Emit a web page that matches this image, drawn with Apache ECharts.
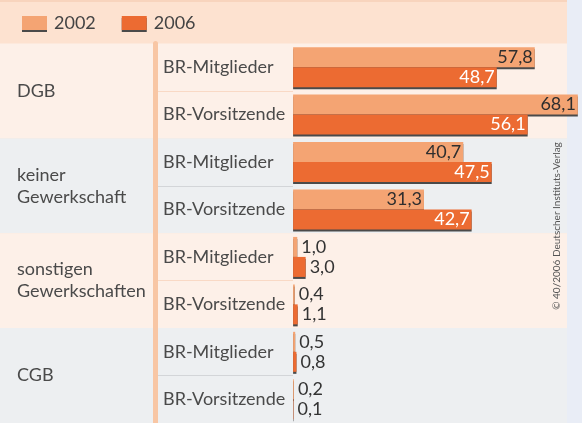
<!DOCTYPE html>
<html>
<head>
<meta charset="utf-8">
<script src="https://cdn.jsdelivr.net/npm/echarts@6/dist/echarts.min.js"></script>
<style>
  html, body { margin: 0; padding: 0; }
  #chart { width: 582px; height: 423px; }
</style>
</head>
<body>
<div id="chart"></div>
<script>
const groups = ['DGB', 'keiner\nGewerkschaft', 'sonstigen\nGewerkschaften', 'CGB'];
const subRows = ['BR-Mitglieder', 'BR-Vorsitzende'];
const years = ['2002', '2006'];
const values2002 = [57.8, 68.1, 40.7, 31.3, 1.0, 0.4, 0.5, 0.2];
const values2006 = [48.7, 56.1, 47.5, 42.7, 3.0, 1.1, 0.8, 0.1];
const sourceNote = '© 40/2006 Deutscher Instituts-Verlag';

// one category per group / sub-row pair, shown as the sub-row name
const rows = [];
groups.forEach(g => subRows.forEach(s => rows.push(g + '|' + s)));

const font = 'Lato, "Liberation Sans", sans-serif';
const fmt = v => v.toFixed(1).replace('.', ',');

function barData(values, innerColor) {
	return values.map(v => ({
		value: v,
		label: v > 10
			? {position: 'insideRight', distance: 2, color: innerColor}
			: {position: 'right', distance: 4, color: '#333'}
	}));
}

let chart = echarts.init(document.getElementById('chart'));

let option = {
	animation: false,
	backgroundColor: '#fde2d0',
	textStyle: {fontFamily: font},
	legend: {
		left: 17,
		top: 9,
		icon: 'rect',
		itemWidth: 25,
		itemHeight: 14,
		itemGap: 26,
		data: years,
		itemStyle: {shadowColor: '#4a4a4a', shadowOffsetY: 2, shadowBlur: 0},
		textStyle: {fontSize: 18, color: '#444', fontFamily: font, padding: [0, 0, 0, 2]}
	},
	grid: [
		{left: 0, right: 0, top: 43.4, bottom: -6},
		{left: 155, width: 138, top: 43.4, bottom: -6}
	],
	xAxis: [
		{gridIndex: 0, type: 'value', min: -70.1, max: 69.1, show: false},
		{gridIndex: 1, type: 'value', show: false}
	],
	yAxis: [
		{
			gridIndex: 0,
			type: 'category',
			position: 'left',
			inverse: true,
			data: rows,
			axisLine: {show: false},
			axisTick: {show: false},
			splitLine: {show: false},
			axisLabel: {
				inside: true,
				margin: 163,
				interval: 0,
				fontSize: 18,
				color: '#4a4a4a',
				fontFamily: font,
				formatter: v => v.split('|')[1]
			}
		},
		{
			gridIndex: 0,
			type: 'category',
			position: 'left',
			inverse: true,
			data: groups,
			axisLine: {show: false},
			axisTick: {show: false},
			splitLine: {show: false},
			axisLabel: {
				inside: true,
				margin: 17,
				interval: 0,
				fontSize: 18,
				lineHeight: 22,
				color: '#4a4a4a',
				fontFamily: font
			},
			splitArea: {show: true, interval: 0, areaStyle: {color: ['#fdf0e8', '#edeff1']}}
		},
		{
			gridIndex: 1,
			type: 'category',
			inverse: true,
			data: rows,
			axisLine: {show: true, lineStyle: {color: '#f8c6a4', width: 5}},
			axisTick: {show: false},
			axisLabel: {show: false},
			splitLine: {
				show: true,
				interval: i => i % 2 === 1,
				lineStyle: {color: ['#f9d9c5', '#d3d5d8'], width: 1}
			}
		}
	],
	graphic: [
		{type: 'rect', left: 567, top: 0, z: 1, shape: {width: 15, height: 423}, style: {fill: '#e9edf6'}},
		{type: 'rect', left: 0, top: 0, z: 1, shape: {width: 567, height: 2}, style: {fill: '#f8d4bd'}},
		{
			type: 'text',
			x: 557,
			y: 226,
			z: 1,
			rotation: Math.PI / 2,
			style: {text: sourceNote, fontSize: 10, fontFamily: font, fill: '#555', align: 'center', verticalAlign: 'middle'}
		}
	],
	series: [
		{
			name: years[0],
			type: 'bar',
			xAxisIndex: 0,
			yAxisIndex: 0,
			barWidth: 20,
			barGap: '0%',
			clip: false,
			data: barData(values2002, '#2e2e2e'),
			itemStyle: {color: '#f4a473', shadowColor: '#4a4a4a', shadowOffsetY: 2, shadowBlur: 0},
			label: {show: true, fontSize: 18, fontFamily: font, formatter: p => fmt(p.value)}
		},
		{
			name: years[1],
			type: 'bar',
			xAxisIndex: 0,
			yAxisIndex: 0,
			barWidth: 20,
			barGap: '0%',
			clip: false,
			data: barData(values2006, '#fff'),
			itemStyle: {color: '#ec6b32', shadowColor: '#4a4a4a', shadowOffsetY: 2, shadowBlur: 0},
			label: {show: true, fontSize: 18, fontFamily: font, formatter: p => fmt(p.value)}
		}
	]
};

chart.setOption(option);
</script>
</body>
</html>
